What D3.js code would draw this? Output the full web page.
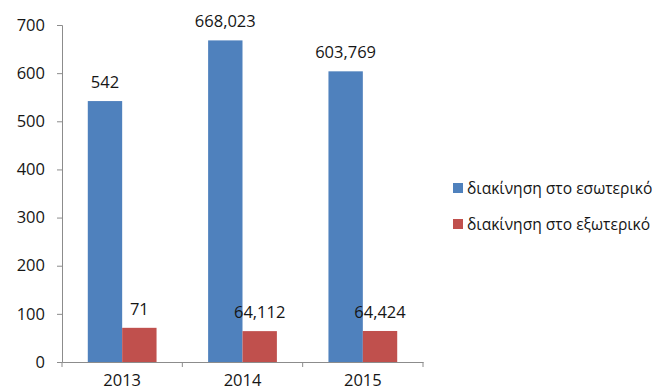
<!DOCTYPE html>
<html>
<head>
<meta charset="utf-8">
<script src="https://cdn.jsdelivr.net/npm/d3@7"></script>
<style>
  html, body { margin: 0; padding: 0; background: #fff; }
  svg { display: block; }
  svg text { font-family: "Open Sans", "Noto Sans", sans-serif; }
</style>
</head>
<body>
<svg id="chart" width="660" height="392"></svg>
<script>
// chart data
const years = ['2013', '2014', '2015']
const domestic = [542, 668.023, 603.769]
const foreign = [71, 64.112, 64.424]
const seriesNames = ['διακίνηση στο εσωτερικό', 'διακίνηση στο εξωτερικό']
const seriesColors = ['#4f81bd', '#c0504d']
const yTicks = [0, 100, 200, 300, 400, 500, 600, 700]

let svg = d3.select('#chart'),
    plotL = 62, plotR = 423, plotT = 25, plotB = 362,
    txtCol = '#161616', axisCol = '#8c8c8c'

let x = d3.scaleBand().domain(years).range([plotL, plotR]).paddingInner(0).paddingOuter(0)
let inner = d3.scaleBand().domain([0, 1]).range([0, x.bandwidth()]).paddingOuter(0.75).paddingInner(0)
let y = d3.scaleLinear().domain([0, 700]).range([plotB, plotT])

// greek style decimal comma
let fmt = (v) => Number.isInteger(v) ? String(v) : d3.format('.3f')(v).replace('.', ',')

// axes
let yAxis = svg.append('g')
  .attr('transform', `translate(${plotL},0)`)
  .call(d3.axisLeft(y).tickValues(yTicks).tickSize(5).tickPadding(12).tickFormat(d3.format('d')))
yAxis.attr('font-family', null).attr('font-size', 16.5)
yAxis.select('.domain').attr('stroke', axisCol)
yAxis.selectAll('.tick line').attr('stroke', axisCol)
yAxis.selectAll('.tick text').attr('fill', txtCol)

let rows = years.map((yr, i) => ({year: yr, vals: [domestic[i], foreign[i]]}))

let groups = svg.selectAll('.grp').data(rows).enter().append('g')
  .attr('class', 'grp')
  .attr('transform', d => `translate(${x(d.year)},0)`)

groups.selectAll('rect').data(d => d.vals).enter().append('rect')
  .attr('x', (d, j) => inner(j))
  .attr('width', inner.bandwidth())
  .attr('y', d => y(d))
  .attr('height', d => plotB - y(d))
  .attr('fill', (d, j) => seriesColors[j])

groups.selectAll('.lbl').data(d => d.vals).enter().append('text')
  .attr('class', 'lbl')
  .attr('x', (d, j) => inner(j) + inner.bandwidth() / 2)
  .attr('y', d => y(d) - 13)
  .attr('text-anchor', 'middle')
  .attr('font-size', 16.5)
  .attr('fill', txtCol)
  .text(d => fmt(d))

// x axis drawn after bars so the line sits on top
let xAxis = svg.append('g')
  .attr('transform', `translate(0,${plotB})`)
  .call(d3.axisBottom(x).tickSize(0).tickPadding(12))
xAxis.attr('font-family', null).attr('font-size', 16.5)
xAxis.select('.domain').attr('stroke', axisCol)
xAxis.selectAll('.tick text').attr('fill', txtCol)
// boundary ticks between categories
xAxis.selectAll('.bound').data(d3.range(years.length + 1)).enter().append('line')
  .attr('class', 'bound')
  .attr('x1', i => plotL + i * x.bandwidth()).attr('x2', i => plotL + i * x.bandwidth())
  .attr('y1', 0).attr('y2', 5)
  .attr('stroke', axisCol)

// legend
let legend = svg.selectAll('.leg').data(seriesNames).enter().append('g')
  .attr('class', 'leg')
  .attr('transform', (d, i) => `translate(453,${183 + i * 36})`)
legend.append('rect')
  .attr('width', 10).attr('height', 10)
  .attr('fill', (d, i) => seriesColors[i])
legend.append('text')
  .attr('x', 14).attr('y', 10.5)
  .attr('font-size', 15.6)
  .attr('fill', txtCol)
  .text(d => d)
</script>
</body>
</html>
